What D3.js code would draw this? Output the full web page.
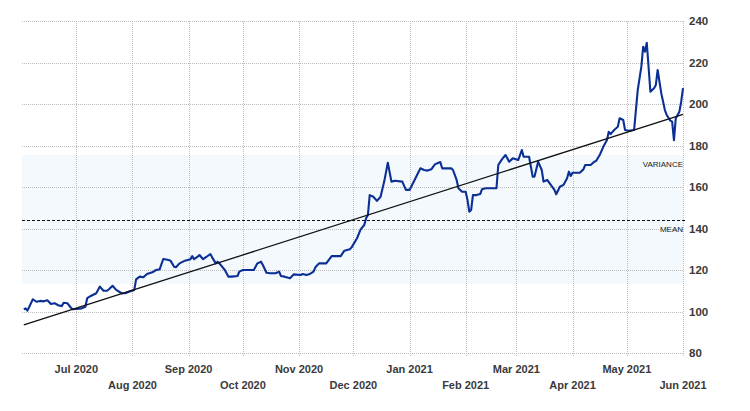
<!DOCTYPE html>
<html>
<head>
<meta charset="utf-8">
<script src="https://cdn.jsdelivr.net/npm/d3@7"></script>
<style>
  html, body { margin: 0; padding: 0; background: #fff; }
  svg { display: block; }
  text { font-family: "Liberation Sans", Arial, sans-serif; }
</style>
</head>
<body>
<svg id="chart" width="750" height="411"></svg>
<script>
// ---- data ----
const dates = ["2020-06-02","2020-06-03","2020-06-04","2020-06-07","2020-06-09","2020-06-11","2020-06-13","2020-06-15","2020-06-17","2020-06-19",
"2020-06-21","2020-06-23","2020-06-24","2020-06-26","2020-06-28","2020-06-29","2020-07-01","2020-07-04","2020-07-06","2020-07-07",
"2020-07-09","2020-07-12","2020-07-14","2020-07-16","2020-07-18","2020-07-19","2020-07-21","2020-07-23","2020-07-26","2020-07-28",
"2020-07-30","2020-08-02","2020-08-03","2020-08-05","2020-08-07","2020-08-09","2020-08-12","2020-08-14","2020-08-16","2020-08-18",
"2020-08-21","2020-08-22","2020-08-24","2020-08-25","2020-08-27","2020-08-30","2020-09-02","2020-09-03","2020-09-04","2020-09-06",
"2020-09-07","2020-09-09","2020-09-11","2020-09-13","2020-09-14","2020-09-16","2020-09-17","2020-09-18","2020-09-21","2020-09-23",
"2020-09-25","2020-09-28","2020-09-29","2020-10-01","2020-10-05","2020-10-07","2020-10-09","2020-10-11","2020-10-12","2020-10-14",
"2020-10-16","2020-10-19","2020-10-21","2020-10-22","2020-10-24","2020-10-27","2020-10-29","2020-11-02","2020-11-03","2020-11-05",
"2020-11-07","2020-11-09","2020-11-10","2020-11-12","2020-11-14","2020-11-16","2020-11-19","2020-11-22","2020-11-24","2020-11-26",
"2020-11-29","2020-11-30","2020-12-03","2020-12-05","2020-12-07","2020-12-08","2020-12-09","2020-12-10","2020-12-12","2020-12-14",
"2020-12-16","2020-12-18","2020-12-20","2020-12-22","2020-12-24","2020-12-28","2020-12-30","2021-01-01","2021-01-04","2021-01-07",
"2021-01-09","2021-01-11","2021-01-13","2021-01-15","2021-01-17","2021-01-18","2021-01-19","2021-01-21","2021-01-24","2021-01-25",
"2021-01-27","2021-01-28","2021-01-30","2021-02-01","2021-02-02","2021-02-03","2021-02-04","2021-02-05","2021-02-07","2021-02-09",
"2021-02-10","2021-02-12","2021-02-15","2021-02-18","2021-02-19","2021-02-21","2021-02-23","2021-02-25","2021-02-27","2021-03-02",
"2021-03-04","2021-03-05","2021-03-08","2021-03-10","2021-03-11","2021-03-13","2021-03-15","2021-03-16","2021-03-18","2021-03-20",
"2021-03-22","2021-03-23","2021-03-25","2021-03-27","2021-03-29","2021-03-30","2021-03-31","2021-04-01","2021-04-05","2021-04-07",
"2021-04-08","2021-04-11","2021-04-13","2021-04-14","2021-04-16","2021-04-18","2021-04-20","2021-04-21","2021-04-22","2021-04-24",
"2021-04-26","2021-04-27","2021-04-29","2021-04-30","2021-05-02","2021-05-05","2021-05-07","2021-05-09","2021-05-10","2021-05-11",
"2021-05-12","2021-05-14","2021-05-16","2021-05-17","2021-05-18","2021-05-20","2021-05-22","2021-05-23","2021-05-25","2021-05-26",
"2021-05-27","2021-05-28","2021-05-30","2021-05-31","2021-06-01"];
const values = [101.0,101.5,100.4,105.9,104.7,105.1,104.9,105.4,103.6,104.0,
103.0,102.6,104.2,104.0,101.8,101.1,101.2,101.5,102.3,106.4,
107.5,108.8,112.0,110.0,110.0,110.7,112.4,110.4,108.8,108.8,
109.5,110.4,115.5,116.8,116.5,118.1,118.9,120.0,120.3,125.3,
124.8,124.5,121.6,121.3,123.2,124.5,125.2,126.7,125.2,126.4,
127.2,125.2,126.4,127.7,126.1,123.2,124.0,123.2,120.0,116.8,
116.8,117.1,119.2,120.0,120.0,120.0,123.2,124.0,122.4,118.7,
118.4,118.4,119.2,117.1,116.8,116.0,117.9,117.6,118.1,117.6,
118.1,119.2,121.3,123.2,123.2,123.2,126.7,126.7,126.7,129.3,
130.0,130.9,135.3,139.6,141.7,144.9,146.5,156.1,155.3,153.3,
155.3,162.6,171.7,162.6,163.0,162.6,158.6,158.6,163.7,169.0,
168.2,167.9,168.5,170.9,171.7,172.0,169.0,169.0,169.0,168.2,
163.4,159.4,157.7,157.7,153.7,148.1,148.9,156.1,156.1,156.6,
158.9,159.4,159.4,159.4,170.6,173.3,175.4,172.2,173.8,173.0,
177.8,174.6,174.6,165.0,165.0,172.2,168.2,162.6,163.4,161.0,
158.6,156.5,160.1,161.0,164.2,167.4,165.3,166.9,166.9,168.5,
170.6,170.6,172.2,172.5,175.4,179.4,182.6,186.6,185.5,187.5,
189.0,193.1,192.3,187.5,187.1,187.5,206.7,218.0,227.6,225.2,
229.5,205.9,207.6,209.2,216.4,205.2,197.1,194.7,192.0,191.5,
182.6,193.1,196.3,201.1,207.6];
const trendDates = ["2020-06-02", "2021-06-01"];
const trendValues = [93.5, 195.0];
const meanValue = 143.9;
const varianceBand = [113.3, 175.4];
const yTicks = [80, 100, 120, 140, 160, 180, 200, 220, 240];
const xTickDates = ["2020-07-01","2020-08-01","2020-09-01","2020-10-01","2020-11-01","2020-12-01",
"2021-01-01","2021-02-01","2021-03-01","2021-04-01","2021-05-01","2021-06-01"];
const xTickLabels = ["Jul 2020","Aug 2020","Sep 2020","Oct 2020","Nov 2020","Dec 2020",
"Jan 2021","Feb 2021","Mar 2021","Apr 2021","May 2021","Jun 2021"];
const domainDates = ["2020-06-01", "2021-06-01"];

// ---- drawing ----
const parse = d3.utcParse("%Y-%m-%d");
const svg = d3.select("#chart");
const L = 22, R = 683, T = 21, B = 353;

const x = d3.scaleUtc().domain(domainDates.map(parse)).range([L, R]);
const y = d3.scaleLinear().domain([80, 240]).range([B, T]);

// variance band
svg.append("rect")
  .attr("x", L).attr("width", R - L)
  .attr("y", y(varianceBand[1])).attr("height", y(varianceBand[0]) - y(varianceBand[1]))
  .attr("fill", "#f3f9fd");

// horizontal grid
svg.append("g").selectAll("line").data(yTicks).join("line")
  .attr("x1", L).attr("x2", R)
  .attr("y1", d => Math.round(y(d)) + 0.5).attr("y2", d => Math.round(y(d)) + 0.5)
  .attr("stroke", "#bdbdbd").attr("stroke-width", 1).attr("stroke-dasharray", "1,1");

// vertical grid
svg.append("g").selectAll("line").data(xTickDates.map(parse)).join("line")
  .attr("x1", d => Math.round(x(d)) + 0.5).attr("x2", d => Math.round(x(d)) + 0.5)
  .attr("y1", T).attr("y2", B + 4)
  .attr("stroke", "#bdbdbd").attr("stroke-width", 1).attr("stroke-dasharray", "1,1");

// y labels
svg.append("g").selectAll("text").data(yTicks).join("text")
  .attr("x", 689).attr("y", d => y(d)).attr("dy", "0.35em")
  .attr("font-size", 11.5).attr("font-weight", "bold").attr("fill", "#3a3a3a")
  .text(d => d);

// x labels (staggered)
svg.append("g").selectAll("text").data(xTickDates).join("text")
  .attr("x", d => x(parse(d)))
  .attr("y", (d, i) => i % 2 === 0 ? 373 : 389)
  .attr("text-anchor", "middle")
  .attr("font-size", 11).attr("font-weight", "bold").attr("fill", "#3a3a3a")
  .text((d, i) => xTickLabels[i]);

// mean line
svg.append("line")
  .attr("x1", L).attr("x2", R + 3)
  .attr("y1", Math.round(y(meanValue)) + 0.5).attr("y2", Math.round(y(meanValue)) + 0.5)
  .attr("stroke", "#111").attr("stroke-width", 1).attr("stroke-dasharray", "3,2");

// annotations
svg.append("text").attr("x", R).attr("y", 167).attr("text-anchor", "end")
  .attr("font-size", 8).attr("fill", "#222").text("VARIANCE");
svg.append("text").attr("x", R).attr("y", 232).attr("text-anchor", "end")
  .attr("font-size", 8).attr("fill", "#222").text("MEAN");

// data line
const series = dates.map((d, i) => ({ date: parse(d), value: values[i] }));
const line = d3.line().x(d => x(d.date)).y(d => y(d.value));
svg.append("path").datum(series)
  .attr("d", line)
  .attr("fill", "none").attr("stroke", "#0b2f95").attr("stroke-width", 2.1)
  .attr("stroke-linejoin", "round");

// trend line
const trend = trendDates.map((d, i) => ({ date: parse(d), value: trendValues[i] }));
svg.append("path").datum(trend)
  .attr("d", line)
  .attr("fill", "none").attr("stroke", "#111").attr("stroke-width", 1.3);
</script>
</body>
</html>
